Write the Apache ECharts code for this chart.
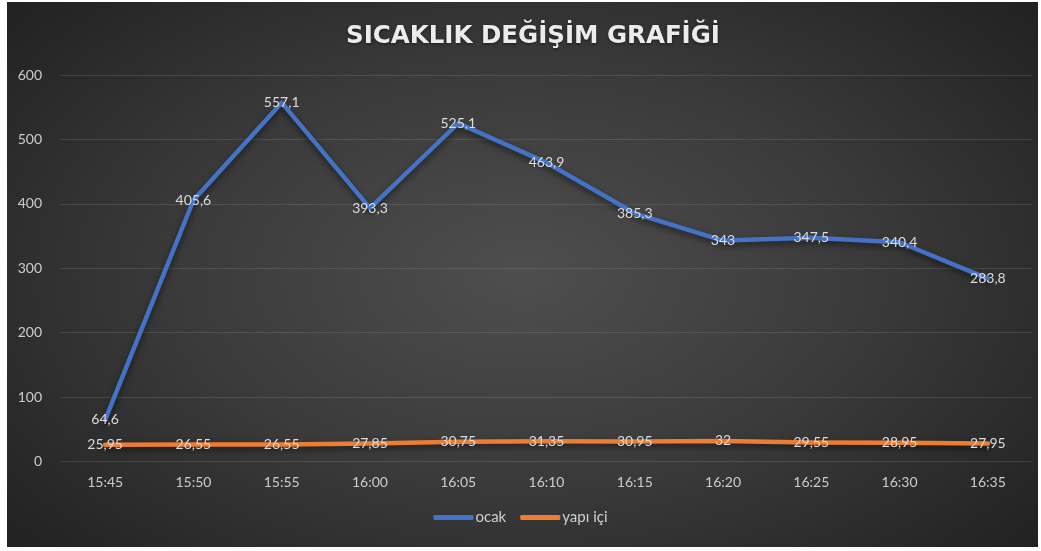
<!DOCTYPE html>
<html>
<head>
<meta charset="utf-8">
<script src="https://cdn.jsdelivr.net/npm/echarts@6/dist/echarts.min.js"></script>
<style>
  html, body { margin: 0; padding: 0; background: #ffffff; }
  #frame {
    position: absolute; left: 7px; top: 2px; width: 1031px; height: 545px;
    background: radial-gradient(ellipse 75% 85% at 50% 50%, #4e4e4e 0%, #3a3a3a 45%, #262626 80%, #1c1c1c 100%);
  }
  #chart { position: absolute; left: 0; top: 0; width: 1041px; height: 551px; }
</style>
</head>
<body>
<div id="frame"></div>
<div id="chart"></div>
<script>
// Time stamps on the category axis
const times = ['15:45', '15:50', '15:55', '16:00', '16:05', '16:10', '16:15', '16:20', '16:25', '16:30', '16:35'];
// Stove temperature readings
const ocak = [64.6, 405.6, 557.1, 393.3, 525.1, 463.9, 385.3, 343, 347.5, 340.4, 283.8];
// Indoor temperature readings
const yapiIci = [25.95, 26.55, 26.55, 27.85, 30.75, 31.35, 30.95, 32, 29.55, 28.95, 27.95];

const FONT = 'Lato, "Noto Sans", sans-serif';
const commaFmt = p => String(p.value).replace('.', ',');

function lineSeries(name, data, color) {
  return {
    name: name,
    type: 'line',
    data: data,
    symbol: 'circle',
    symbolSize: 0.1,
    itemStyle: { color: color },
    lineStyle: {
      color: color, width: 4.5, cap: 'round', join: 'round',
      shadowColor: 'rgba(0,0,0,0.55)', shadowBlur: 6, shadowOffsetY: 3
    },
    label: {
      show: true, position: 'inside', formatter: commaFmt,
      color: '#dcdcdc', fontFamily: FONT, fontSize: 14
    },
    emphasis: { disabled: true },
    animation: false
  };
}

const chart = echarts.init(document.getElementById('chart'), null, { renderer: 'canvas' });
chart.setOption({
  backgroundColor: 'transparent',
  animation: false,
  title: {
    text: 'SICAKLIK DEĞİŞİM GRAFİĞİ',
    left: 528, textAlign: 'center', top: 19,
    textStyle: {
      color: '#ececec', fontFamily: '"DejaVu Sans", sans-serif', fontWeight: 'bold', fontSize: 24.5,
      textShadowColor: 'rgba(0,0,0,0.5)', textShadowBlur: 3, textShadowOffsetY: 1
    }
  },
  grid: { left: 61, right: 9, top: 75, bottom: 89.5, containLabel: false },
  legend: {
    bottom: 21, left: 'center',
    data: ['ocak', 'yapı içi'],
    icon: 'roundRect', itemWidth: 40, itemHeight: 5, itemGap: 14,
    textStyle: { color: '#d0d0d0', fontFamily: FONT, fontSize: 15, padding: [0, 0, 0, -3] }
  },
  xAxis: {
    type: 'category', data: times, boundaryGap: true,
    axisLine: { show: false }, axisTick: { show: false },
    axisLabel: { color: '#cccccc', fontFamily: FONT, fontSize: 14, margin: 14 }
  },
  yAxis: {
    type: 'value', min: 0, max: 600, interval: 100,
    axisLine: { show: false }, axisTick: { show: false },
    axisLabel: { color: '#cccccc', fontFamily: FONT, fontSize: 14, margin: 19 },
    splitLine: { lineStyle: { color: 'rgba(255,255,255,0.11)', width: 1 } }
  },
  series: [
    lineSeries('ocak', ocak, '#4472c4'),
    lineSeries('yapı içi', yapiIci, '#ed7d31')
  ]
});
</script>
</body>
</html>
